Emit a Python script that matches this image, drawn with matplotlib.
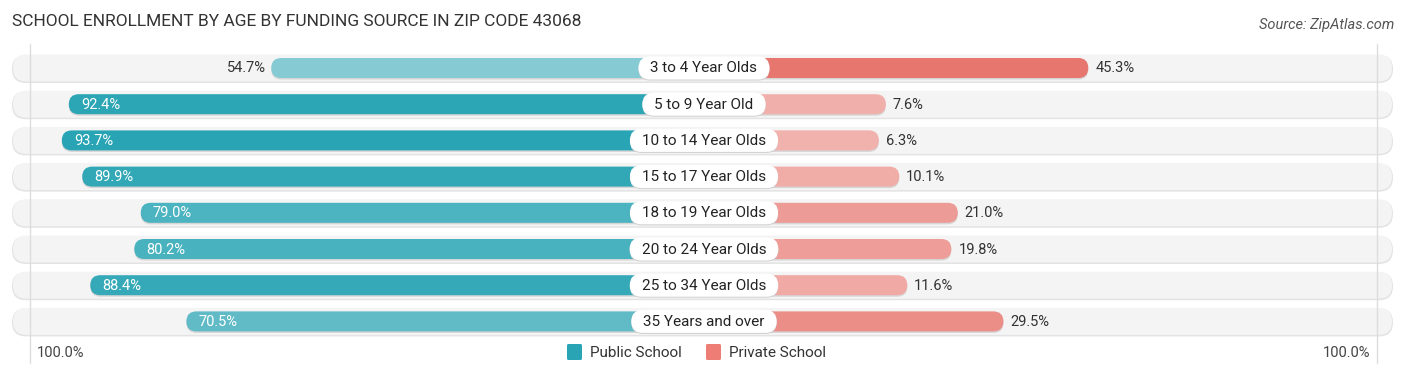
import matplotlib
matplotlib.use("Agg")
import matplotlib.pyplot as plt
from matplotlib.patches import FancyBboxPatch
from matplotlib.colors import to_rgb

plt.rcParams['font.family'] = ['Roboto', 'DejaVu Sans']

categories = ["3 to 4 Year Olds", "5 to 9 Year Old", "10 to 14 Year Olds", "15 to 17 Year Olds",
              "18 to 19 Year Olds", "20 to 24 Year Olds", "25 to 34 Year Olds", "35 Years and over"]
public = [54.7, 92.4, 93.7, 89.9, 79.0, 80.2, 88.4, 70.5]
private = [45.3, 7.6, 6.3, 10.1, 21.0, 19.8, 11.6, 29.5]
series_names = ["Public School", "Private School"]
title = "SCHOOL ENROLLMENT BY AGE BY FUNDING SOURCE IN ZIP CODE 43068"
source = "Source: ZipAtlas.com"
axis_label = "100.0%"

PUB = "#29a4b4"
PRI = "#e7766f"

W, H = 1406, 377
fig = plt.figure(figsize=(W / 100, H / 100), dpi=100)
ax = fig.add_axes([0, 0, 1, 1])
ax.set_xlim(0, W)
ax.set_ylim(H, 0)
ax.axis("off")

cx = 705.0
off = 140.0
s = 5.37
row0 = 68.0
dy = 36.2
bar_h = 20
bg_h = 28
lab_h = 23


def shade(base, v, vals):
    lo, hi = min(vals), max(vals)
    a = 0.567 + 0.433 * (v - lo) / (hi - lo)
    b = to_rgb(base)
    return tuple(1 - (1 - c) * a for c in b)


def pill(x0, x1, yc, h, fc, z=1):
    r = h / 2
    p = FancyBboxPatch((x0 + r, yc - h / 2 + r), max(x1 - x0 - 2 * r, 0.01), max(h - 2 * r, 0.01),
                       boxstyle=f"round,pad={r}", fc=fc, ec="none", lw=0, zorder=z)
    ax.add_patch(p)
    return p


full = off + s * 100
for xl in (cx - full + 2, cx + full - 5):
    ax.plot([xl, xl], [row0 - 24, row0 + 7 * dy + 42], color="#dddddd", lw=1, zorder=2.5)

renderer = fig.canvas.get_renderer()

for i, cat in enumerate(categories):
    yc = row0 + i * dy
    pill(cx - full - 16, cx + full + 11, yc + 1, bg_h, "#e3e3e3", z=1)
    pill(cx - full - 15, cx + full + 10, yc, bg_h - 1, "#f4f4f4", z=1.2)

    pv = public[i]
    qv = private[i]
    xl = cx - (off + s * pv)
    xr = cx + (off + s * qv)
    pill(xl, cx, yc + 1.5, bar_h, "#d6d6d6", z=2)
    pill(cx, xr, yc + 1.5, bar_h, "#d6d6d6", z=2)
    pill(xl, cx, yc, bar_h, shade(PUB, pv, public), z=3)
    pill(cx, xr, yc, bar_h, shade(PRI, qv, private), z=3)

    if pv > 60:
        ax.text(xl + 12, yc + 0.5, f"{pv:.1f}%", color="white", fontsize=10.5,
                ha="left", va="center", zorder=6)
    else:
        ax.text(xl - 5, yc + 0.5, f"{pv:.1f}%", color="#333333", fontsize=10.5,
                ha="right", va="center", zorder=6)
    ax.text(xr + 7, yc + 0.5, f"{qv:.1f}%", color="#333333", fontsize=10.5,
            ha="left", va="center", zorder=6)

    t = ax.text(cx - 1, yc + 0.5, cat, color="#222222", fontsize=11, ha="center",
                va="center", zorder=8)
    bb = t.get_window_extent(renderer=renderer)
    tw = bb.width
    pill(cx - 1 - tw / 2 - 12, cx - 1 + tw / 2 + 12, yc + 1, lab_h, "#d0d0d0", z=6.5)
    pill(cx - 1 - tw / 2 - 12, cx - 1 + tw / 2 + 12, yc, lab_h, "white", z=7)

ax.text(12, 22, title, fontsize=12.5, color="#333333", ha="left", va="center")
ax.text(1394, 25, source, fontsize=10.5, color="#555555", ha="right", va="center",
        style="italic")

ly = 353
ax.text(37, ly, axis_label, fontsize=10.5, color="#444444", ha="left", va="center")
ax.text(1370, ly, axis_label, fontsize=10.5, color="#444444", ha="right", va="center")

ax.add_patch(FancyBboxPatch((567, 344), 15, 16, boxstyle="round,pad=0,rounding_size=1.5",
                            fc=PUB, ec="none", zorder=5))
ax.text(590, ly, series_names[0], fontsize=11, color="#333333", ha="left", va="center")
ax.add_patch(FancyBboxPatch((706, 344), 15, 16, boxstyle="round,pad=0,rounding_size=1.5",
                            fc="#ee7d76", ec="none", zorder=5))
ax.text(729, ly, series_names[1], fontsize=11, color="#333333", ha="left", va="center")

fig.savefig("out.png", dpi=100, facecolor="white")
